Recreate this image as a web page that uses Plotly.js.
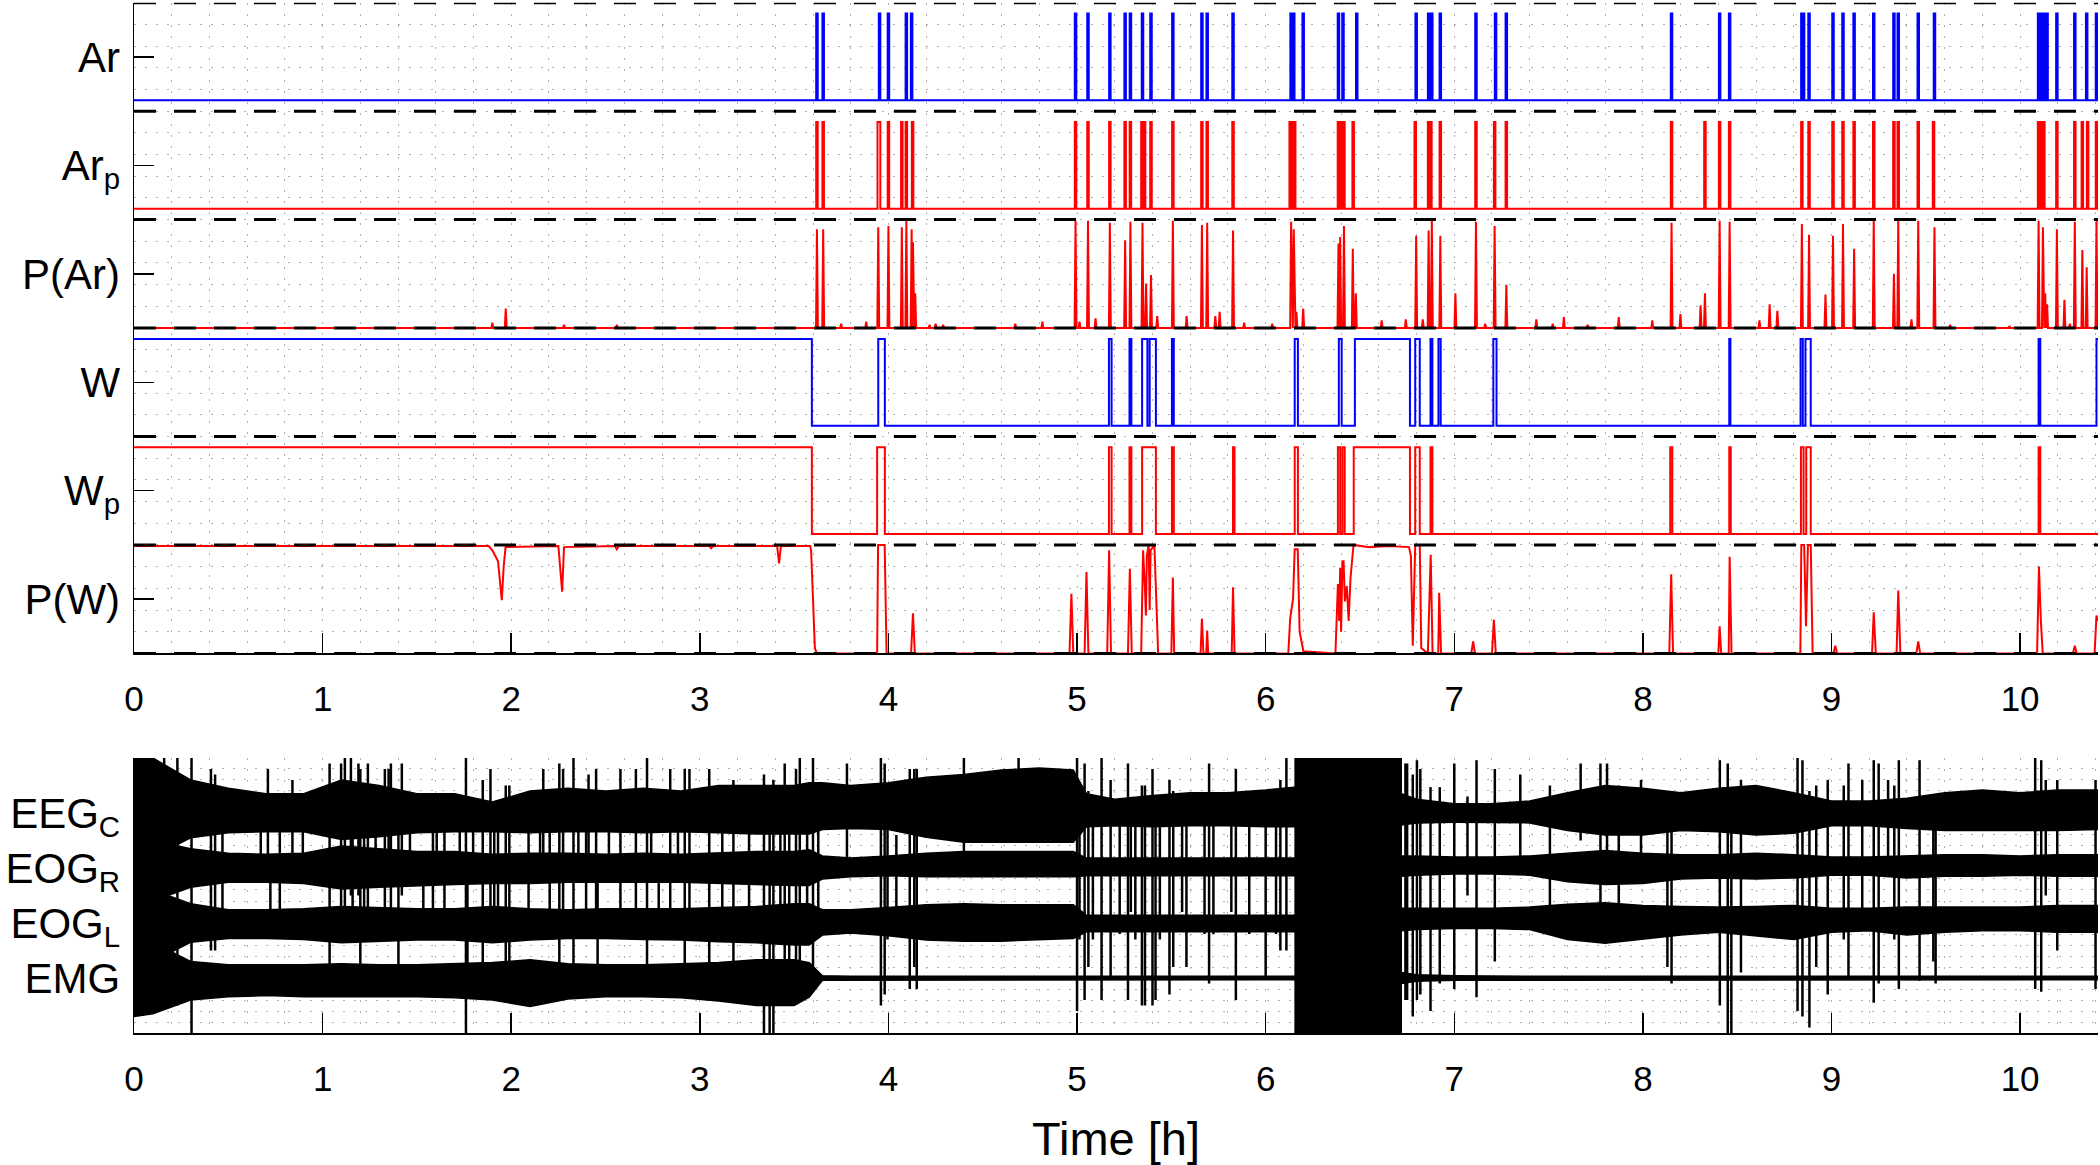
<!DOCTYPE html>
<html><head><meta charset="utf-8">
<script src="https://cdn.plot.ly/plotly-3.0.1.min.js"></script>
<style>html,body{margin:0;padding:0;background:#fff}#chart{width:2100px;height:1165px}</style>
</head><body><div id="chart"></div>
<script>
// ---------------- DATA ----------------
const XMAX = 10.413;
const hourTicks = [0,1,2,3,4,5,6,7,8,9,10];
const topLabels = ['Ar','Ar<sub>p</sub>','P(Ar)','W','W<sub>p</sub>','P(W)'];
const topLabelPos = [5.5,4.5,3.5,2.5,1.5,0.5];
const bandEdges = [0,1,2,3,4,5,6];
const botLabels = ['EEG<sub>C</sub>','EOG<sub>R</sub>','EOG<sub>L</sub>','EMG'];
const botLabelPos = [4,3,2,1];

// Ar (scored arousals), epoch centres [h]
const arT = [3.621,3.654,3.953,4.000,4.095,4.123,4.992,5.058,5.174,5.255,5.283,5.347,5.392,5.508,5.662,5.690,5.827,6.135,6.149,6.199,6.386,6.410,6.483,6.798,6.864,6.881,6.926,7.115,7.219,7.276,8.152,8.407,8.460,8.843,8.852,8.881,9.008,9.061,9.120,9.224,9.331,9.354,9.460,9.546,10.098,10.107,10.117,10.126,10.143,10.195,10.290,10.353,10.405];
// Ar_p (predicted arousals)
const arpT = [3.621,3.654,3.946,3.953,4.000,4.071,4.095,4.128,4.992,5.058,5.174,5.255,5.283,5.344,5.358,5.392,5.508,5.662,5.690,5.827,6.130,6.142,6.154,6.386,6.400,6.415,6.464,6.793,6.864,6.876,6.926,7.115,7.214,7.276,8.152,8.329,8.407,8.460,8.843,8.881,9.008,9.061,9.120,9.224,9.331,9.354,9.460,9.541,10.098,10.107,10.117,10.126,10.195,10.290,10.330,10.358,10.405];
// P(Ar) peaks
const parT = [1.900,1.971,2.280,2.560,3.621,3.654,3.749,3.882,3.946,4.000,4.071,4.095,4.123,4.130,4.142,4.218,4.250,4.290,4.672,4.816,4.992,5.013,5.058,5.098,5.174,5.255,5.283,5.347,5.366,5.392,5.425,5.508,5.581,5.662,5.690,5.733,5.756,5.827,5.886,6.035,6.135,6.149,6.163,6.199,6.386,6.395,6.415,6.462,6.478,6.615,6.743,6.798,6.833,6.864,6.881,6.926,7.006,7.115,7.164,7.214,7.276,7.435,7.522,7.581,7.707,7.872,8.050,8.152,8.199,8.306,8.329,8.407,8.460,8.618,8.672,8.713,8.843,8.881,8.968,9.008,9.061,9.120,9.224,9.331,9.354,9.424,9.460,9.546,9.629,9.944,10.098,10.121,10.133,10.143,10.195,10.235,10.264,10.290,10.330,10.353,10.405];
const parV = [0.05,0.18,0.03,0.03,0.91,0.91,0.04,0.06,0.93,0.94,0.93,0.99,0.91,0.79,0.32,0.03,0.04,0.03,0.04,0.06,0.99,0.06,0.99,0.09,0.97,0.81,0.98,0.97,0.41,0.49,0.11,0.99,0.11,0.95,0.97,0.11,0.15,0.90,0.05,0.04,0.98,0.91,0.15,0.18,0.78,0.84,0.94,0.73,0.32,0.07,0.08,0.85,0.08,0.90,0.99,0.85,0.32,0.98,0.04,0.94,0.40,0.08,0.04,0.10,0.03,0.10,0.07,0.97,0.13,0.21,0.32,0.99,0.98,0.07,0.22,0.16,0.96,0.86,0.31,0.85,0.96,0.73,0.99,0.50,0.99,0.08,0.99,0.93,0.03,0.02,0.99,0.93,0.32,0.22,0.91,0.26,0.04,0.98,0.72,0.56,0.99];
// W (scored wake) intervals
const wStart = [0,3.946,5.169,5.278,5.345,5.385,5.503,6.154,6.388,6.473,6.793,6.874,6.916,7.207,8.458,8.836,8.862,10.098,10.405];
const wEnd   = [3.594,3.981,5.183,5.288,5.373,5.418,5.513,6.171,6.403,6.765,6.817,6.884,6.928,7.224,8.464,8.848,8.890,10.107,10.413];
// W_p (predicted wake) intervals
const wpStart = [0,3.940,5.169,5.278,5.345,5.503,5.827,6.154,6.383,6.407,6.467,6.793,6.874,8.145,8.458,8.838,8.866,10.098];
const wpEnd   = [3.594,3.981,5.183,5.288,5.418,5.513,5.835,6.171,6.395,6.419,6.765,6.817,6.884,8.156,8.466,8.852,8.890,10.107];
// P(W) knots
const pwT = [0,1.88,1.90,1.93,1.95,1.96,1.97,2.25,2.27,2.28,2.55,2.56,2.57,3.05,3.06,3.07,3.41,3.42,3.43,3.585,3.59,3.60,3.605,3.61,3.62,3.94,3.945,3.98,3.99,4.12,4.13,4.14,4.96,4.97,4.98,5.04,5.05,5.06,5.16,5.17,5.18,5.27,5.28,5.29,5.34,5.35,5.36,5.365,5.37,5.38,5.385,5.39,5.41,5.42,5.43,5.50,5.508,5.515,5.655,5.662,5.67,5.685,5.69,5.695,5.82,5.827,5.835,6.12,6.13,6.145,6.154,6.17,6.18,6.20,6.37,6.383,6.39,6.395,6.40,6.407,6.413,6.42,6.43,6.44,6.45,6.466,6.55,6.65,6.76,6.77,6.78,6.793,6.817,6.825,6.86,6.875,6.885,6.915,6.92,6.93,7.09,7.10,7.11,7.20,7.21,7.22,8.14,8.15,8.16,8.40,8.407,8.415,8.455,8.46,8.47,8.835,8.84,8.855,8.865,8.875,8.89,8.90,9.01,9.02,9.03,9.215,9.224,9.235,9.345,9.354,9.365,9.45,9.46,9.47,10.09,10.10,10.11,10.12,10.28,10.29,10.30,10.395,10.405,10.413];
const pwV = [0.99,0.99,0.95,0.85,0.49,0.80,0.98,0.99,0.57,0.98,0.99,0.96,0.99,0.99,0.97,0.99,0.99,0.83,0.99,0.99,0.95,0.40,0.24,0.05,0,0,1.0,1.0,0,0,0.37,0,0,0.55,0,0,0.75,0,0,0.95,0,0,0.78,0,0,0.95,0.60,0.35,0.90,1.0,0.40,0.95,1.0,0.50,0,0,0.70,0,0,0.32,0,0,0.21,0,0,0.61,0,0,0.32,0.50,0.96,0.96,0.20,0.02,0,0.64,0.30,0.79,0.20,0.85,0.85,0.48,0.62,0.30,0.70,1.0,0.98,0.99,0.98,0.90,0.07,1.0,1.0,0.05,0,0.91,0,0,0.56,0,0,0.11,0,0,0.31,0,0,0.73,0,0,0.25,0,0,0.89,0,0,1.0,1.0,0.25,1.0,1.0,0,0,0.07,0,0,0.38,0,0,0.58,0,0,0.11,0,0,0.80,0.30,0,0,0.07,0,0,0.35,0.30];

// Raw signals: envelope knots (upper / lower) in panel units
const sigT = [0,0.1,0.3,0.5,0.7,0.9,1.1,1.3,1.5,1.7,1.9,2.1,2.3,2.5,2.7,2.9,3.1,3.3,3.5,3.58,3.65,3.8,4.0,4.2,4.4,4.6,4.8,4.98,5.05,5.2,5.4,5.6,5.8,6.0,6.15,6.72,6.8,7.0,7.2,7.4,7.6,7.8,8.0,8.2,8.4,8.6,8.8,9.0,9.2,9.4,9.6,9.8,10.0,10.2,10.413];
const eegU = [5.0,5.0,4.6,4.45,4.35,4.35,4.6,4.5,4.35,4.35,4.2,4.4,4.45,4.4,4.45,4.4,4.5,4.5,4.5,4.55,4.55,4.5,4.55,4.65,4.7,4.78,4.82,4.78,4.35,4.25,4.32,4.37,4.37,4.42,4.47,4.35,4.25,4.17,4.17,4.22,4.37,4.5,4.45,4.37,4.45,4.5,4.37,4.22,4.22,4.27,4.37,4.42,4.37,4.42,4.42];
const eegL = [3.2,3.2,3.55,3.64,3.66,3.66,3.52,3.57,3.64,3.66,3.66,3.64,3.66,3.66,3.64,3.66,3.64,3.62,3.62,3.62,3.7,3.72,3.7,3.56,3.47,3.47,3.47,3.47,3.75,3.77,3.75,3.77,3.77,3.75,3.75,3.78,3.82,3.83,3.83,3.82,3.68,3.6,3.6,3.68,3.66,3.6,3.63,3.77,3.77,3.72,3.68,3.68,3.68,3.68,3.7];
const eogRU = [3.5,3.5,3.35,3.27,3.25,3.27,3.4,3.35,3.3,3.3,3.25,3.27,3.27,3.25,3.27,3.25,3.27,3.3,3.3,3.33,3.22,3.18,3.22,3.27,3.3,3.3,3.3,3.3,3.18,3.18,3.18,3.18,3.18,3.18,3.18,3.22,3.22,3.2,3.2,3.22,3.27,3.32,3.27,3.24,3.24,3.27,3.24,3.2,3.2,3.22,3.24,3.24,3.22,3.24,3.24];
const eogRL = [2.4,2.4,2.65,2.74,2.74,2.72,2.62,2.65,2.68,2.7,2.72,2.72,2.74,2.74,2.74,2.74,2.72,2.7,2.68,2.68,2.8,2.84,2.86,2.84,2.84,2.84,2.84,2.84,2.86,2.86,2.86,2.86,2.86,2.86,2.86,2.85,2.87,2.89,2.89,2.87,2.75,2.7,2.72,2.8,2.82,2.8,2.82,2.87,2.87,2.82,2.85,2.85,2.87,2.85,2.85];
const eogLU = [2.6,2.6,2.35,2.24,2.24,2.26,2.3,2.28,2.26,2.26,2.3,2.26,2.24,2.26,2.26,2.26,2.28,2.3,2.35,2.35,2.24,2.24,2.28,2.33,2.35,2.33,2.33,2.33,2.14,2.14,2.14,2.14,2.14,2.14,2.14,2.27,2.27,2.27,2.27,2.29,2.34,2.37,2.32,2.3,2.29,2.3,2.32,2.27,2.27,2.29,2.29,2.29,2.29,2.32,2.32];
const eogLL = [1.3,1.3,1.65,1.72,1.72,1.7,1.64,1.66,1.69,1.69,1.64,1.69,1.72,1.72,1.7,1.69,1.66,1.64,1.6,1.6,1.78,1.82,1.77,1.69,1.67,1.67,1.69,1.72,1.84,1.84,1.84,1.84,1.84,1.84,1.84,1.86,1.88,1.9,1.9,1.88,1.7,1.63,1.7,1.78,1.83,1.76,1.7,1.83,1.86,1.78,1.83,1.86,1.86,1.83,1.83];
const emgU = [1.65,1.65,1.3,1.24,1.24,1.24,1.26,1.24,1.24,1.26,1.28,1.33,1.26,1.24,1.24,1.26,1.28,1.33,1.33,1.28,1.04,1.03,1.03,1.03,1.03,1.03,1.03,1.03,1.03,1.03,1.03,1.03,1.03,1.03,1.03,1.1,1.06,1.04,1.03,1.03,1.03,1.03,1.03,1.03,1.03,1.03,1.03,1.03,1.03,1.03,1.03,1.03,1.03,1.03,1.03];
const emgL = [0.3,0.35,0.6,0.66,0.68,0.66,0.66,0.66,0.66,0.64,0.6,0.48,0.62,0.66,0.66,0.64,0.58,0.5,0.5,0.65,0.96,0.97,0.97,0.97,0.97,0.97,0.97,0.97,0.97,0.97,0.97,0.97,0.97,0.97,0.97,0.9,0.94,0.96,0.97,0.97,0.97,0.97,0.97,0.97,0.97,0.97,0.97,0.97,0.97,0.97,0.97,0.97,0.97,0.97,0.97];
// movement artefact (saturated block)
const blockStart = 6.155, blockEnd = 6.72;
// artefact spikes: time, top, bottom
const spikeT   = [0.16,0.23,0.305,0.408,0.43,0.469,0.672,0.71,0.723,0.773,0.84,0.895,1.037,1.098,1.118,1.15,1.159,1.19,1.20,1.22,1.24,1.281,1.33,1.35,1.362,1.402,1.42,1.463,1.534,1.585,1.605,1.646,1.727,1.76,1.768,1.798,1.849,1.89,1.91,1.93,1.971,1.99,2.092,2.153,2.17,2.204,2.255,2.275,2.33,2.356,2.397,2.41,2.45,2.458,2.518,2.579,2.661,2.72,2.742,2.782,2.843,2.884,2.92,2.945,3.05,3.119,3.178,3.261,3.34,3.37,3.39,3.427,3.45,3.474,3.51,3.53,3.569,3.60,3.628,3.78,3.96,3.98,3.995,4.042,4.113,4.137,4.15,4.40,4.69,5.00,5.013,5.04,5.06,5.084,5.13,5.178,5.226,5.27,5.285,5.309,5.344,5.36,5.40,5.416,5.439,5.49,5.51,5.557,5.58,5.676,5.70,5.723,5.818,5.842,5.913,6.00,6.055,6.078,6.11,6.741,6.75,6.78,6.802,6.82,6.874,6.923,7.00,7.07,7.118,7.215,7.35,7.507,7.67,7.775,7.81,7.872,7.99,8.13,8.152,8.408,8.45,8.469,8.52,8.82,8.846,8.883,8.919,8.98,9.065,9.09,9.163,9.224,9.25,9.30,9.333,9.357,9.467,9.54,9.552,10.08,10.112,10.136,10.197,10.40];
const spikeTop = [5.0,5.0,5.0,4.8,4.7,3.8,3.8,4.8,2.85,3.8,4.6,3.8,4.9,4.9,5.0,5.0,3.8,4.9,4.8,3.8,4.9,3.8,4.8,4.8,4.9,3.8,4.9,3.8,2.85,3.8,3.8,3.8,3.8,5.0,2.85,3.8,4.6,4.8,3.8,3.8,4.5,4.5,3.8,3.8,4.8,3.8,4.9,4.8,5.0,3.8,3.8,4.7,4.8,2.85,3.8,4.8,4.8,5.0,3.8,2.85,4.8,3.8,4.8,4.8,4.8,3.8,4.6,3.8,4.7,4.5,4.6,3.8,4.9,3.8,4.8,5.0,3.8,5.0,3.8,4.9,5.0,4.9,3.8,3.6,4.8,4.8,4.8,5.0,5.0,5.0,4.4,4.9,4.4,3.8,5.0,4.6,3.8,4.9,3.8,3.8,4.5,4.5,4.8,4.3,3.8,4.6,4.4,3.8,4.3,3.8,4.9,3.8,3.8,4.8,3.8,4.4,3.8,4.6,5.0,4.9,4.9,4.7,4.96,4.8,4.47,4.47,4.9,4.3,4.96,4.8,4.7,4.5,4.9,4.9,4.9,4.5,4.6,4.3,4.3,4.96,4.9,4.4,4.6,5.0,4.96,4.4,4.5,4.6,4.5,4.9,4.6,4.96,4.9,4.6,4.5,4.96,4.96,4.3,4.3,5.0,4.96,4.6,4.6,4.6];
const spikeBot = [0.8,0.5,0.0,1.5,1.5,2.2,3.15,3.0,2.15,2.2,3.0,3.15,1.2,2.2,1.8,2.5,2.2,2.5,1.2,2.15,2.2,3.15,2.2,2.8,2.2,1.2,2.5,3.15,2.15,2.2,3.15,2.15,3.15,0.0,1.2,3.15,1.0,2.2,1.7,2.15,0.6,0.6,2.2,3.15,2.8,2.15,1.2,2.2,1.2,3.15,2.2,2.8,2.2,1.2,3.15,2.2,2.2,0.9,3.15,2.15,2.2,3.15,1.2,2.2,0.6,2.15,1.2,2.2,0.0,0.0,0.0,2.2,0.5,1.2,1.0,0.8,2.2,1.0,2.2,3.0,0.5,0.7,1.7,2.2,0.8,1.2,0.8,3.0,3.5,0.4,1.7,0.6,1.2,1.7,0.6,1.0,1.8,0.6,2.2,1.7,0.5,0.5,0.5,0.6,1.7,0.7,1.2,2.2,1.2,1.8,0.9,1.8,2.2,0.6,1.8,1.0,1.8,1.5,1.5,0.6,0.6,0.3,0.6,0.7,0.4,0.9,0.8,2.5,0.65,1.3,3.0,2.2,3.5,2.2,3.0,1.7,3.0,1.2,0.9,0.5,0.0,0.0,1.1,0.4,0.3,0.1,1.2,0.7,1.7,1.0,2.2,0.55,0.9,3.0,1.7,0.8,0.95,1.3,0.9,0.8,0.75,2.5,1.5,0.8];

// ---------------- BUILD ----------------
const BLUE = '#0000ff', RED = '#ff0000';
const FONT = '"Liberation Sans", Arial, Helvetica, sans-serif';

function mergeIv(starts, ends){
  const iv = starts.map((s,i)=>[s,ends[i]]).sort((a,b)=>a[0]-b[0]);
  const out=[];
  iv.forEach(v=>{ if(out.length && v[0] <= out[out.length-1][1]) out[out.length-1][1]=Math.max(out[out.length-1][1],v[1]); else out.push(v.slice()); });
  return out;
}
function stepXY(iv, k){
  const lo=k+0.1, hi=k+0.9, x=[], y=[];
  if(iv.length && iv[0][0]<=0){x.push(0);y.push(hi);} else {x.push(0);y.push(lo);}
  let last=0;
  iv.forEach(([a,b])=>{
    if(a>0){x.push(a,a);y.push(lo,hi);}
    if(b<XMAX){x.push(b,b);y.push(hi,lo);} else {x.push(XMAX);y.push(hi);}
    last=b;
  });
  if(last<XMAX){x.push(XMAX);y.push(lo);}
  return {x,y};
}
const PW = 0.008;
function pulses(ts){ return mergeIv(ts.map(t=>t-PW/2), ts.map(t=>t+PW/2)); }
function peaksXY(ts, vs, k){
  const hw=0.005, pts=[[0,0],[XMAX,0]];
  ts.forEach((t,i)=>{pts.push([t-hw,0],[t,vs[i]],[t+hw,0]);});
  pts.sort((a,b)=>a[0]-b[0]);
  return {x:pts.map(p=>p[0]), y:pts.map(p=>p[1]+k)};
}

const traces=[];
function addLine(xy,color,w,ax){
  traces.push({type:'scatter',mode:'lines',x:xy.x,y:xy.y,xaxis:ax[0],yaxis:ax[1],
    line:{color:color,width:w},hoverinfo:'skip',showlegend:false});
}
const TOP=['x','y'];
addLine(stepXY(pulses(arT),5),BLUE,2,TOP);
addLine(stepXY(pulses(arpT),4),RED,2,TOP);
addLine(peaksXY(parT,parV,3),RED,2,TOP);
addLine(stepXY(mergeIv(wStart,wEnd),2),BLUE,2,TOP);
addLine(stepXY(mergeIv(wpStart,wpEnd),1),RED,2,TOP);
addLine({x:pwT,y:pwV.map(v=>v+0)},RED,2,TOP);
bandEdges.forEach(k=>{
  traces.push({type:'scatter',mode:'lines',x:[0,XMAX],y:[k,k],xaxis:'x',yaxis:'y',
    line:{color:'#000',width:3,dash:'22px,18px'},hoverinfo:'skip',showlegend:false});
});

// bottom signals
[[eegU,eegL],[eogRU,eogRL],[eogLU,eogLL],[emgU,emgL]].forEach(([u,l])=>{
  const x=sigT.concat(sigT.slice().reverse());
  const y=u.concat(l.slice().reverse());
  traces.push({type:'scatter',mode:'lines',x:x,y:y,fill:'toself',fillcolor:'#000',
    xaxis:'x2',yaxis:'y2',line:{color:'#000',width:1.5},hoverinfo:'skip',showlegend:false});
});
traces.push({type:'scatter',mode:'lines',x:[blockStart,blockStart,blockEnd,blockEnd],y:[0,5,5,0],
  fill:'toself',fillcolor:'#000',xaxis:'x2',yaxis:'y2',line:{color:'#000',width:1},hoverinfo:'skip',showlegend:false});
(function(){
  const x=[],y=[];
  spikeT.forEach((t,i)=>{x.push(t,t,null);y.push(spikeTop[i],spikeBot[i],null);});
  traces.push({type:'scatter',mode:'lines',x:x,y:y,xaxis:'x2',yaxis:'y2',
    line:{color:'#000',width:2.5},connectgaps:false,hoverinfo:'skip',showlegend:false});
})();

const GRID='#b0b0b0', GDASH='2px,9px';
function xAxis(anchor, extra){
  return Object.assign({anchor:anchor, domain:[0,1], range:[0,XMAX], tickmode:'array', tickvals:hourTicks,
    ticktext:hourTicks.map(String), ticks:'inside', ticklen:20, tickwidth:1.5, tickcolor:'#000',
    showline:true, linecolor:'#000', linewidth:1.5, mirror:false, zeroline:false,
    showgrid:true, gridcolor:GRID, griddash:GDASH, gridwidth:1,
    minor:{tickmode:'linear', tick0:0, dtick:0.2, showgrid:true, gridcolor:GRID, griddash:GDASH, gridwidth:1, ticks:''},
    tickfont:{family:FONT,size:35,color:'#000'}, ticklabelstandoff:14, fixedrange:true}, extra||{});
}
function yAxis(anchor, domain, range, vals, text, fs){
  return {anchor:anchor, domain:domain, range:range, tickmode:'array', tickvals:vals, ticktext:text,
    ticks:'inside', ticklen:20, tickwidth:1.5, tickcolor:'#000', showline:true, linecolor:'#000', linewidth:1.5,
    mirror:false, zeroline:false, showgrid:false,
    minor:{tickmode:'linear', tick0:0, dtick:0.2, showgrid:true, gridcolor:GRID, griddash:GDASH, gridwidth:1, ticks:''},
    tickfont:{family:FONT,size:fs,color:'#000'}, ticklabelstandoff:4, fixedrange:true};
}
const layout={
  width:2100, height:1165, margin:{l:134,r:2,t:0,b:0}, paper_bgcolor:'#fff', plot_bgcolor:'#fff',
  showlegend:false, font:{family:FONT,color:'#000'},
  xaxis: xAxis('y'),
  yaxis: yAxis('x',[0.43914,0.99768],[0,6],topLabelPos,topLabels,42),
  xaxis2: xAxis('y2',{title:{text:'Time [h]', font:{family:FONT,size:47,color:'#000'}, standoff:27}}),
  yaxis2: yAxis('x2',[0.11330,0.34936],[0,5],botLabelPos,botLabels,42)
};
Plotly.newPlot('chart',traces,layout,{staticPlot:true,displayModeBar:false});
</script></body></html>
